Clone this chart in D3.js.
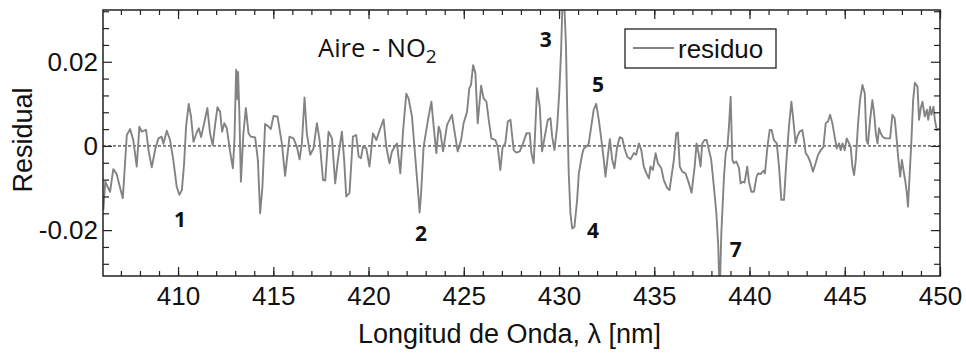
<!DOCTYPE html>
<html>
<head>
<meta charset="utf-8">
<script src="https://cdn.jsdelivr.net/npm/d3@7"></script>
<style>
  html, body { margin: 0; padding: 0; background: #fff; }
  svg { display: block; }
  text { font-family: "Liberation Sans", Arial, sans-serif; fill: #111; }
</style>
</head>
<body>
<svg id="chart" width="966" height="354"></svg>
<script>
// Wavelength samples (nm) and fit residual
const wavelength = [
  406.08,406.18,406.43,406.60,406.78,406.92,407.10,407.31,407.48,407.65,407.83,407.97,408.09,408.32,408.46,408.62,408.81,408.97,409.14,409.23,
  409.41,409.58,409.75,409.93,410.07,410.20,410.32,410.42,410.56,410.68,410.81,410.98,411.09,411.21,411.37,411.54,411.68,411.82,411.95,412.07,
  412.21,412.31,412.43,412.56,412.73,412.88,412.96,413.01,413.05,413.12,413.15,413.22,413.30,413.43,413.56,413.70,413.82,414.05,414.19,414.31,
  414.43,414.57,414.75,414.87,415.01,415.22,415.45,415.62,415.85,416.06,416.24,416.38,416.50,416.64,416.76,416.94,417.11,417.29,417.43,417.61,
  417.73,417.90,418.08,418.25,418.37,418.60,418.72,418.83,419.00,419.18,419.35,419.48,419.60,419.71,419.88,420.05,420.23,420.41,420.62,420.79,
  420.93,421.10,421.23,421.37,421.49,421.58,421.67,421.81,421.98,422.10,422.28,422.45,422.58,422.68,422.76,422.89,423.12,423.30,423.42,423.56,
  423.68,423.77,423.91,424.12,424.38,424.50,424.68,424.86,424.99,425.17,425.29,425.38,425.49,425.61,425.73,425.91,426.04,426.19,426.31,426.45,
  426.66,426.78,426.92,427.04,427.18,427.31,427.45,427.62,427.76,427.94,428.11,428.29,428.46,428.55,428.67,428.85,428.99,429.11,429.25,429.41,
  429.55,429.64,429.76,429.90,430.01,430.11,430.22,430.36,430.43,430.51,430.60,430.69,430.81,430.95,431.04,431.21,431.30,431.44,431.56,431.69,
  431.82,431.95,432.09,432.27,432.35,432.44,432.56,432.67,432.79,432.91,433.05,433.19,433.32,433.44,433.58,433.75,433.93,434.05,434.19,434.32,
  434.45,434.59,434.72,434.80,434.93,435.07,435.19,435.37,435.50,435.68,435.80,436.03,436.15,436.24,436.34,436.47,436.64,436.82,436.96,437.12,
  437.22,437.34,437.43,437.52,437.64,437.75,437.87,437.99,438.13,438.26,438.36,438.43,438.52,438.57,438.66,438.75,438.84,438.92,439.01,439.10,
  439.18,439.31,439.45,439.53,439.65,439.74,439.88,439.97,440.10,440.23,440.37,440.46,440.58,440.73,440.81,440.94,441.06,441.16,441.28,441.43,
  441.55,441.67,441.81,441.94,442.07,442.20,442.30,442.42,442.51,442.63,442.77,442.86,442.95,443.07,443.21,443.33,443.47,443.60,443.74,443.88,
  444.00,444.12,444.23,444.35,444.47,444.58,444.70,444.79,444.88,445.00,445.10,445.23,445.31,445.40,445.49,445.58,445.70,445.80,445.93,446.05,
  446.14,446.22,446.33,446.45,446.54,446.63,446.72,446.80,446.89,446.99,447.12,447.24,447.38,447.50,447.62,447.73,447.80,447.91,448.00,448.08,
  448.17,448.26,448.32,448.41,448.50,448.59,448.68,448.82,448.90,448.99,449.08,449.20,449.31,449.38,449.48,449.55,449.66,449.73,449.83,450.00
];
const residual = [
  -0.0152,-0.0085,-0.0109,-0.0055,-0.0067,-0.0093,-0.0124,0.0026,0.0040,0.0014,-0.0049,0.0046,0.0034,0.0038,-0.0013,-0.0051,-0.0006,0.0018,0.0022,0.0005,
  0.0036,0.0014,-0.0033,-0.0097,-0.0116,-0.0105,-0.0041,0.0046,0.0100,0.0070,0.0010,0.0032,0.0042,0.0021,0.0054,0.0090,0.0030,0.0002,0.0052,0.0092,
  0.0081,0.0034,0.0054,0.0042,-0.0013,-0.0053,0.0014,0.0109,0.0181,0.0111,0.0176,0.0074,-0.0085,0.0030,0.0090,0.0030,0.0022,0.0020,-0.0033,-0.0160,
  -0.0097,0.0052,0.0046,0.0040,0.0071,0.0070,0.0006,-0.0071,0.0022,0.0018,-0.0002,-0.0032,0.0006,0.0115,0.0030,-0.0021,-0.0006,0.0054,0.0014,-0.0081,
  -0.0082,0.0034,0.0018,-0.0089,-0.0041,0.0034,-0.0033,-0.0120,-0.0112,0.0022,0.0026,-0.0025,-0.0029,-0.0002,-0.0005,-0.0049,0.0030,0.0014,0.0042,0.0063,
  -0.0002,-0.0041,-0.0013,-0.0002,0.0006,-0.0029,-0.0065,0.0034,0.0124,0.0113,0.0070,-0.0025,-0.0097,-0.0158,-0.0112,-0.0002,0.0062,0.0105,0.0046,-0.0017,
  0.0046,0.0034,-0.0013,0.0050,0.0074,0.0038,-0.0013,0.0014,0.0054,0.0081,0.0137,0.0145,0.0192,0.0173,0.0054,0.0143,0.0113,0.0105,0.0062,0.0018,
  0.0014,-0.0002,-0.0057,-0.0002,0.0006,0.0058,0.0062,-0.0010,-0.0016,-0.0013,0.0006,0.0030,0.0030,-0.0017,-0.0041,0.0137,0.0093,-0.0013,0.0022,0.0062,
  0.0066,0.0022,-0.0010,0.0046,0.0125,0.0228,0.0400,0.0245,0.0086,-0.0065,-0.0160,-0.0196,-0.0192,-0.0128,-0.0065,-0.0021,-0.0006,-0.0002,0.0006,0.0046,
  0.0086,0.0100,0.0062,-0.0002,-0.0033,-0.0073,-0.0025,0.0016,-0.0033,-0.0053,-0.0002,0.0021,0.0018,-0.0006,-0.0025,-0.0032,-0.0017,-0.0021,0.0006,-0.0010,
  -0.0049,-0.0065,-0.0077,-0.0049,-0.0057,-0.0017,-0.0041,-0.0053,-0.0081,-0.0100,-0.0105,-0.0033,0.0030,0.0032,-0.0049,-0.0061,-0.0065,-0.0089,-0.0111,-0.0049,
  0.0006,-0.0021,-0.0049,0.0006,0.0014,0.0014,-0.0010,-0.0033,-0.0097,-0.0160,-0.0239,-0.0360,-0.0207,-0.0160,-0.0073,-0.0017,-0.0002,0.0046,0.0117,-0.0033,
  -0.0041,-0.0037,-0.0053,-0.0089,-0.0085,-0.0087,-0.0049,-0.0085,-0.0109,-0.0109,-0.0073,-0.0065,-0.0067,-0.0059,-0.0065,-0.0002,0.0038,0.0038,0.0014,0.0006,
  -0.0049,-0.0128,-0.0128,-0.0033,0.0046,0.0105,0.0062,0.0006,0.0022,0.0034,0.0038,0.0014,-0.0017,-0.0025,-0.0041,-0.0061,-0.0041,-0.0021,-0.0010,-0.0002,
  0.0054,0.0058,0.0074,0.0054,0.0022,-0.0006,0.0006,-0.0010,0.0006,-0.0010,0.0018,0.0006,-0.0002,-0.0049,-0.0069,-0.0033,0.0054,0.0109,0.0145,0.0125,
  0.0014,0.0005,0.0062,0.0109,0.0078,0.0030,0.0006,0.0042,0.0030,0.0022,0.0018,0.0018,0.0018,0.0074,0.0066,0.0014,-0.0025,-0.0073,-0.0033,-0.0057,
  -0.0081,-0.0112,-0.0144,-0.0065,0.0014,0.0109,0.0150,0.0141,0.0062,0.0090,0.0105,0.0070,0.0086,0.0062,0.0093,0.0074,0.0093,0.0062,0.0038,0.0042
];

// Axis ticks
const xMajorTicks = [410, 415, 420, 425, 430, 435, 440, 445, 450];
const xMinorTicks = d3.range(407, 451, 1);
const yMajorTicks = [-0.02, 0, 0.02];
const yMinorTicks = [-0.028, -0.024, -0.016, -0.012, -0.008, -0.004, 0.004, 0.008, 0.012, 0.016, 0.024, 0.028, 0.032];
const yTickLabels = ["-0.02", "0", "0.02"];

// Numbered features along the residual (label, nm, residual)
const peakLabels = ["1", "2", "3", "4", "5", "7"];
const peakNm = [410.10, 422.75, 429.31, 431.78, 432.04, 439.28];
const peakValue = [-0.0192, -0.0226, 0.0235, -0.0219, 0.0128, -0.0264];

const seriesName = "residuo";
const xTitle = "Longitud de Onda, \u03bb [nm]";
const yTitle = "Residual";

const svg = d3.select("#chart");
const plotL = 103, plotR = 940, plotT = 10, plotB = 276;

const x = d3.scaleLinear().domain([406.06, 450]).range([plotL, plotR]);
const y = d3.scaleLinear().domain([-0.0309, 0.0323]).range([plotB, plotT]);

svg.append("defs").append("clipPath").attr("id", "plotClip")
  .append("rect").attr("x", plotL).attr("y", plotT)
  .attr("width", plotR - plotL).attr("height", plotB - plotT);

// zero reference line
svg.append("line")
  .attr("x1", plotL).attr("x2", plotR)
  .attr("y1", y(0)).attr("y2", y(0))
  .attr("stroke", "#111").attr("stroke-width", 1)
  .attr("stroke-dasharray", "3,2");

// residual trace
const pts = wavelength.map((w, i) => [w, residual[i]]);
const line = d3.line().x(d => x(d[0])).y(d => y(d[1]));
svg.append("path")
  .datum(pts)
  .attr("clip-path", "url(#plotClip)")
  .attr("d", line)
  .attr("fill", "none")
  .attr("stroke", "#838383")
  .attr("stroke-width", 1.9)
  .attr("stroke-linejoin", "round");

// axes with inward ticks
function styleAxis(g) {
  g.select(".domain").remove();
  g.selectAll(".tick line").attr("stroke", "#222").attr("stroke-width", 1.2);
  g.selectAll(".tick text").attr("fill", "#111")
    .style("font-family", "'Liberation Sans', Arial, sans-serif").style("font-size", "26px");
}

svg.append("g").attr("transform", `translate(0,${plotB})`)
  .call(d3.axisBottom(x).tickValues(xMinorTicks).tickSize(-5).tickFormat(""))
  .call(styleAxis);
svg.append("g").attr("transform", `translate(0,${plotB})`)
  .call(d3.axisBottom(x).tickValues(xMajorTicks).tickSize(-9).tickPadding(11).tickFormat(d3.format("d")))
  .call(styleAxis);
svg.append("g").attr("transform", `translate(0,${plotT})`)
  .call(d3.axisTop(x).tickValues(xMinorTicks).tickSize(-5).tickFormat(""))
  .call(styleAxis);
svg.append("g").attr("transform", `translate(0,${plotT})`)
  .call(d3.axisTop(x).tickValues(xMajorTicks).tickSize(-9).tickFormat(""))
  .call(styleAxis);

svg.append("g").attr("transform", `translate(${plotL},0)`)
  .call(d3.axisLeft(y).tickValues(yMinorTicks).tickSize(-6).tickFormat(""))
  .call(styleAxis);
svg.append("g").attr("transform", `translate(${plotL},0)`)
  .call(d3.axisLeft(y).tickValues(yMajorTicks).tickSize(-9).tickPadding(5)
    .tickFormat((d, i) => yTickLabels[i]))
  .call(styleAxis);
svg.append("g").attr("transform", `translate(${plotR},0)`)
  .call(d3.axisRight(y).tickValues(yMinorTicks).tickSize(-6).tickFormat(""))
  .call(styleAxis);
svg.append("g").attr("transform", `translate(${plotR},0)`)
  .call(d3.axisRight(y).tickValues(yMajorTicks).tickSize(-9).tickFormat(""))
  .call(styleAxis);

// frame
svg.append("rect")
  .attr("x", plotL).attr("y", plotT)
  .attr("width", plotR - plotL).attr("height", plotB - plotT)
  .attr("fill", "none").attr("stroke", "#222").attr("stroke-width", 1.5);

// axis titles
svg.append("text")
  .attr("x", (plotL + plotR) / 2 - 12).attr("y", 343)
  .attr("text-anchor", "middle")
  .style("font-size", "27px")
  .text(xTitle);
svg.append("text")
  .attr("transform", `translate(32,${140}) rotate(-90)`)
  .attr("text-anchor", "middle")
  .style("font-size", "27px")
  .text(yTitle);

// sample label
const tag = svg.append("text")
  .attr("x", x(417.35)).attr("y", y(0.0212))
  .style("font-family", "'Open Sans', sans-serif")
  .style("font-size", "25.5px");
tag.append("tspan").text("Aire - NO");
tag.append("tspan").attr("dy", 6).style("font-size", "19px").text("2");

// numbered features
peakLabels.forEach((lab, i) => {
  svg.append("text")
    .attr("x", x(peakNm[i])).attr("y", y(peakValue[i]))
    .attr("text-anchor", "middle")
    .style("font-family", "'Open Sans', Lato, sans-serif")
    .style("font-weight", "bold")
    .style("font-size", "21px")
    .text(lab);
});

// legend
const lg = svg.append("g").attr("transform", "translate(625,29)");
lg.append("rect").attr("width", 151).attr("height", 39)
  .attr("fill", "#fff").attr("stroke", "#222").attr("stroke-width", 1.3);
lg.append("line").attr("x1", 8).attr("x2", 49).attr("y1", 19).attr("y2", 19)
  .attr("stroke", "#838383").attr("stroke-width", 1.9);
lg.append("text").attr("x", 53).attr("y", 29)
  .style("font-size", "26px").text(seriesName);
</script>
</body>
</html>
